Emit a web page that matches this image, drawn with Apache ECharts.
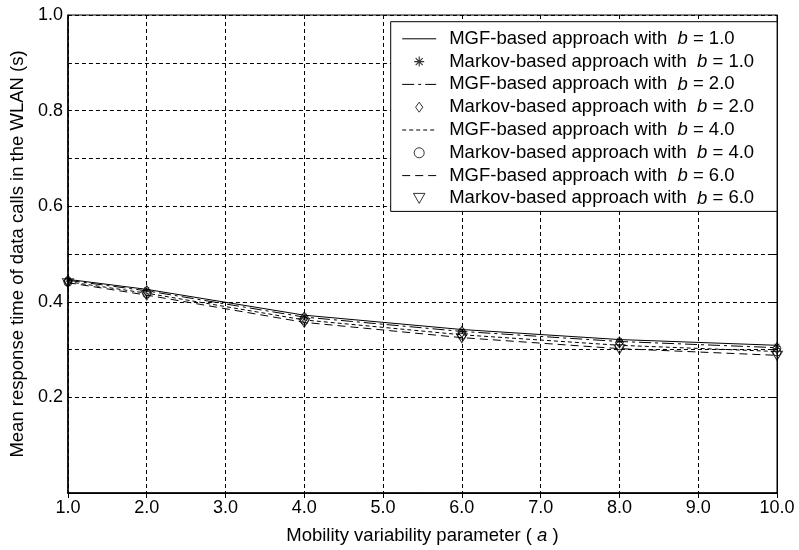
<!DOCTYPE html>
<html>
<head>
<meta charset="utf-8">
<script src="https://cdn.jsdelivr.net/npm/echarts@6/dist/echarts.min.js"></script>
<style>
html,body{margin:0;padding:0;background:#fff;}
#chart{width:799px;height:550px;}
</style>
</head>
<body>
<div id="chart"></div>
<script>
// ---- data ----
const aValues = [1, 2, 4, 6, 8, 10];
const mgfB1 = [0.447, 0.426, 0.372, 0.342, 0.321, 0.309];
const mgfB2 = [0.445, 0.423, 0.368, 0.338, 0.317, 0.304];
const mgfB4 = [0.442, 0.418, 0.362, 0.331, 0.309, 0.296];
const mgfB6 = [0.440, 0.414, 0.357, 0.325, 0.302, 0.288];
const markovB1 = [0.446, 0.425, 0.370, 0.340, 0.319, 0.307];
const markovB2 = [0.444, 0.422, 0.367, 0.337, 0.315, 0.303];
const markovB4 = [0.441, 0.417, 0.361, 0.330, 0.308, 0.295];
const markovB6 = [0.439, 0.413, 0.356, 0.324, 0.301, 0.287];
const seriesNames = [
  'MGF-based approach with  b = 1.0',
  'Markov-based approach with  b = 1.0',
  'MGF-based approach with  b = 2.0',
  'Markov-based approach with  b = 2.0',
  'MGF-based approach with  b = 4.0',
  'Markov-based approach with  b = 4.0',
  'MGF-based approach with  b = 6.0',
  'Markov-based approach with  b = 6.0'
];
const xTickLabels = ['1.0','2.0','3.0','4.0','5.0','6.0','7.0','8.0','9.0','10.0'];
const yTickLabels = ['0.2','0.4','0.6','0.8','1.0'];
const yBoxTicks = [0.2, 0.3, 0.4, 0.5, 0.6, 0.7, 0.8, 0.9];
const xTitle = 'Mobility variability parameter ( {i|a} )';
const yTitle = 'Mean response time of data calls in the WLAN (s)';

const FONT = 'Liberation Sans, Arial, Helvetica, sans-serif';
const pairs = vals => aValues.map((a, i) => [a, vals[i]]);

const asterisk = 'path://M-1,-0.11L1,-0.11L1,0.11L-1,0.11Z M-0.11,-1L0.11,-1L0.11,1L-0.11,1Z M-0.78,-0.62L-0.62,-0.78L0.78,0.62L0.62,0.78Z M0.62,-0.78L0.78,-0.62L-0.62,0.78L-0.78,0.62Z';
const diamond = 'path://M0,-1.4L1,0L0,1.4L-1,0Z';
const downTri = 'path://M-1,-0.85L1,-0.85L0,0.9Z';

const hollow = {color: 'rgba(0,0,0,0)', borderColor: '#000', borderWidth: 1};

function mgf(name, vals, type) {
  return {
    name, type: 'line', data: pairs(vals), symbol: 'none', z: 2,
    lineStyle: {color: '#000', width: 1, type: type},
    itemStyle: {color: 'rgba(0,0,0,0)', borderWidth: 0}
  };
}
function markov(name, vals, symbol, size, style) {
  return {
    name, type: 'scatter', data: pairs(vals), symbol, symbolSize: size, z: 3,
    itemStyle: style
  };
}

const series = [
  mgf(seriesNames[0], mgfB1, 'solid'),
  markov(seriesNames[1], markovB1, asterisk, 7, {color: '#000', borderWidth: 0}),
  mgf(seriesNames[2], mgfB2, [12, 4, 3, 4]),
  markov(seriesNames[3], markovB2, diamond, [8, 11], hollow),
  mgf(seriesNames[4], mgfB4, [4, 3]),
  markov(seriesNames[5], markovB4, 'circle', 8, hollow),
  mgf(seriesNames[6], mgfB6, [8, 5]),
  markov(seriesNames[7], markovB6, downTri, [11, 9], hollow)
];

const splitColors = [];
for (let i = 0; i <= 10; i++) splitColors.push(i < 2 ? 'rgba(0,0,0,0)' : '#000');

const boxAxisX = {
  type: 'value', min: 1, max: 10, interval: 1, position: 'top',
  axisLine: {show: true, lineStyle: {color: '#000', width: 1}},
  axisTick: {show: true, inside: true, length: 5, lineStyle: {color: '#000', width: 1}},
  axisLabel: {show: false}, splitLine: {show: false}
};
const boxAxisY = {
  type: 'value', min: 0, max: 1, interval: 0.1, position: 'right',
  axisLine: {show: true, lineStyle: {color: '#000', width: 1}},
  axisTick: {show: true, inside: true, length: 5, customValues: yBoxTicks, lineStyle: {color: '#000', width: 1}},
  axisLabel: {show: false}, splitLine: {show: false}
};

const chart = echarts.init(document.getElementById('chart'), null, {renderer: 'canvas'});
chart.setOption({
  animation: false,
  backgroundColor: '#fff',
  textStyle: {fontFamily: FONT},
  grid: {left: 67, right: 22, top: 15, bottom: 53, show: true, borderColor: '#000', borderWidth: 1, backgroundColor: 'rgba(0,0,0,0)'},
  legend: {
    orient: 'vertical', left: 390.7, top: 21.7,
    data: seriesNames.map((n, i) => i % 2 === 1
      ? {name: n, itemStyle: series[i].itemStyle}
      : {name: n, itemStyle: {color: 'rgba(0,0,0,0)', borderWidth: 0}}),
    backgroundColor: '#fff', borderColor: '#000', borderWidth: 1,
    padding: [7.6, 23, 3.5, 11],
    itemWidth: 34, itemHeight: 10, itemGap: 3.8,
    lineStyle: {width: 1, color: '#000'},
    selectedMode: false,
    formatter: name => name.replace(' b =', ' {i|b} ='),
    textStyle: {
      fontFamily: FONT, fontSize: 18.5, color: '#000', lineHeight: 18, padding: [0, 0, 0, 8],
      rich: {i: {fontStyle: 'italic', fontFamily: FONT, fontSize: 18.5, lineHeight: 18, color: '#000'}}
    }
  },
  xAxis: [{
    type: 'value', min: 1, max: 10, interval: 1,
    name: xTitle, nameLocation: 'middle', nameGap: 33,
    nameTextStyle: {fontFamily: FONT, fontSize: 18.5, color: '#000',
      rich: {i: {fontStyle: 'italic', fontFamily: FONT, fontSize: 18.5, color: '#000'}}},
    axisLine: {show: true, lineStyle: {color: '#000', width: 1.5}},
    axisTick: {show: false},
    axisLabel: {margin: 6, fontFamily: FONT, fontSize: 18, color: '#000',
      formatter: v => xTickLabels[Math.round(v) - 1] || ''},
    splitLine: {show: true, lineStyle: {color: '#000', width: 1, type: [4, 3]}}
  }, boxAxisX],
  yAxis: [{
    type: 'value', min: 0, max: 1, interval: 0.1,
    name: yTitle, nameLocation: 'middle', nameGap: 36,
    nameTextStyle: {fontFamily: FONT, fontSize: 18.5, color: '#000'},
    axisLine: {show: true, lineStyle: {color: '#000', width: 1.5}},
    axisTick: {show: false},
    axisLabel: {margin: 5, fontFamily: FONT, fontSize: 18, color: '#000',
      formatter: v => { const s = v.toFixed(1); return yTickLabels.includes(s) ? s : ''; }},
    splitLine: {show: true, lineStyle: {color: splitColors, width: 1, type: [4, 3]}}
  }, boxAxisY],
  series
});
</script>
</body>
</html>
